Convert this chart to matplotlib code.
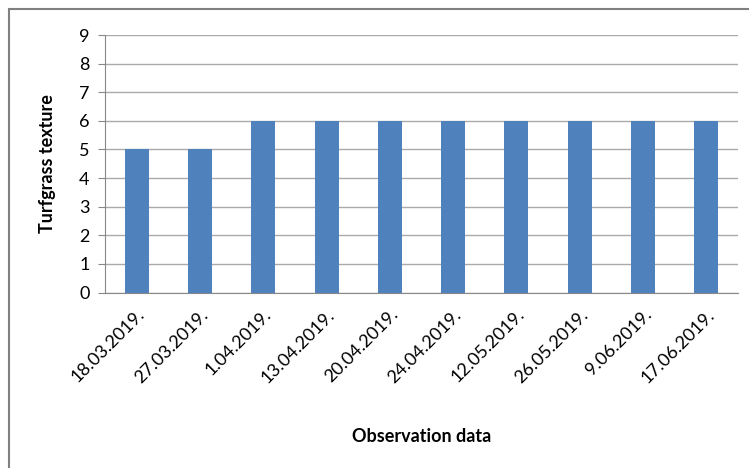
import matplotlib
matplotlib.use("Agg")
import matplotlib.pyplot as plt
from matplotlib.patches import Rectangle

dates = ["18.03.2019.", "27.03.2019.", "1.04.2019.", "13.04.2019.", "20.04.2019.",
         "24.04.2019.", "12.05.2019.", "26.05.2019.", "9.06.2019.", "17.06.2019."]
texture = [5, 5, 6, 6, 6, 6, 6, 6, 6, 6]
y_ticks = list(range(0, 10))

plt.rcParams['font.family'] = ['Lato', 'DejaVu Sans']

fig = plt.figure(figsize=(7.49, 4.68), dpi=100)
ax = fig.add_axes([105/749, 1 - 292.5/468, (738-105)/749, (292.5-35)/468])

x = list(range(len(dates)))
ax.bar(x, texture, width=0.38, color='#4F81BD', zorder=3)
ax.set_xlim(-0.5, len(dates) - 0.5)
ax.set_ylim(0, 9)
ax.set_yticks(y_ticks)
ax.set_yticklabels([str(v) for v in y_ticks], fontsize=13)
ax.set_xticks(x)
ax.set_xticklabels(dates, rotation=45, ha='right', va='top', rotation_mode='anchor', fontsize=13)
ax.tick_params(axis='x', length=0, pad=10)
ax.tick_params(axis='y', length=5, color='#888888', pad=6)
ax.grid(axis='y', color='#AAAAAA', linewidth=1, zorder=0)
for s in ['top', 'right']:
    ax.spines[s].set_visible(False)
ax.spines['left'].set_color('#888888')
ax.spines['bottom'].set_color('#888888')
ax.set_ylabel('Turfgrass texture', fontsize=13, fontweight='bold')
ax.yaxis.set_label_coords((48 - 105)/(738 - 105), 0.5)
ax.set_xlabel('Observation data', fontsize=13, fontweight='bold')
ax.xaxis.set_label_coords(0.5, -(437 - 292.5)/(292.5 - 35))
ax.xaxis.label.set_va('center')
ax.yaxis.label.set_va('center')

fig.patches.append(Rectangle((9/749, -0.1), 1.2, 1 - 9/468 + 0.1, transform=fig.transFigure,
                             fill=False, edgecolor='#808080', linewidth=1.5))

fig.savefig('out.png', dpi=100)
